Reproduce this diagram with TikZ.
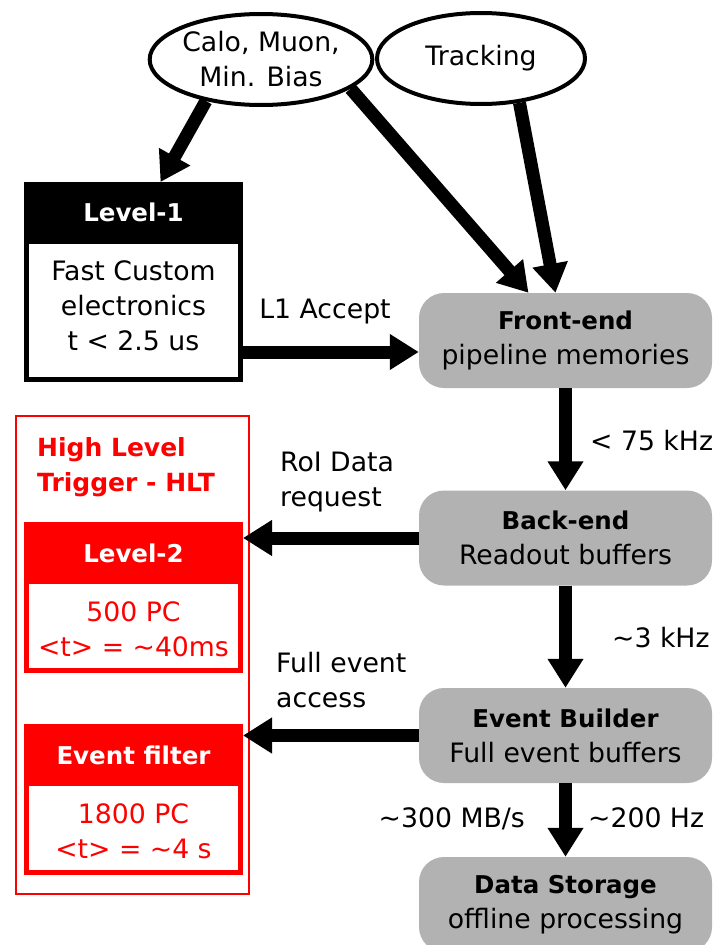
\documentclass[tikz,border=0pt]{standalone}
\usepackage{fontspec}
\setmainfont{DejaVu Sans}
\usetikzlibrary{arrows.meta}
\usetikzlibrary{shapes.geometric}
\usetikzlibrary{calc}
\newcommand{\hd}[1]{{\bfseries\fontsize{24.5}{35}\selectfont #1}}

\begin{document}
\begin{tikzpicture}[x=1pt,y=-1pt,
    every node/.style={font=\fontsize{26.7}{35}\selectfont, inner sep=0pt},
    src/.style={ellipse, draw, line width=4pt, minimum width=208pt, minimum height=91pt, align=center},
    stage/.style={fill=black!30, rounded corners=25pt, minimum width=293pt, minimum height=95pt, align=center},
    trigbox/.style={draw=#1, line width=5pt, minimum width=214pt, minimum height=146pt},
    trighead/.style={fill=#1, text=white, minimum width=219pt, minimum height=62pt, font=\bfseries\fontsize{24.5}{35}\selectfont},
    flow/.style={line width=13pt, -{Triangle[length=29pt,width=34pt]}}]
  \useasboundingbox (0,0) rectangle (717,945);

  % detectors
  \node[src] (calo) at (261,59.5) {Calo, Muon,\\Min. Bias};
  \node[src] (trk) at (481,58.5) {Tracking};

  % level-1
  \node[trigbox=black, minimum height=195pt] (l1) at (133.5,282) {};
  \node[trighead=black] (l1h) at (133.5,212.5) {Level-1};
  \node[align=center] (l1t) at (133.5,306) {Fast Custom\\electronics\\t < 2.5 us};

  % high level trigger
  \node[draw=red, line width=2pt, minimum width=233pt, minimum height=478pt] (hlt) at (132.5,655) {};
  \node[anchor=north west, align=left, text=red, font=\bfseries\fontsize{25}{35}\selectfont] (hltt) at (37,437) {High Level\\Trigger - HLT};
  \node[trigbox=red] (l2) at (133.5,597.5) {};
  \node[trighead=red] (l2h) at (133.5,553) {Level-2};
  \node[align=center, text=red] (l2t) at (133.5,629) {500 PC\\<t> = \textasciitilde40ms};
  \node[trigbox=red] (ef) at (133.5,799.5) {};
  \node[trighead=red] (efh) at (133.5,755) {Event filter};
  \node[align=center, text=red] (eft) at (133.5,831) {1800 PC\\<t> = \textasciitilde4 s};

  % data path
  \node[stage] (fe) at (565.5,340.5) {\hd{Front-end}\\pipeline memories};
  \node[stage] (be) at (565.5,538) {\hd{Back-end}\\Readout buffers};
  \node[stage] (eb) at (565.5,735.5) {\hd{Event Builder}\\Full event buffers};
  \node[stage] (ds) at (565.5,904.5) {\hd{Data Storage}\\offline processing};

  % labels
  \node[anchor=base] (acc) at (325,318) {L1 Accept};
  \node[anchor=base west] (rfe) at (590,450) {< 75 kHz};
  \node[anchor=north west, align=left] (roi) at (280,452) {RoI Data\\request};
  \node[anchor=base west] (rbe) at (612,647) {\textasciitilde3 kHz};
  \node[anchor=north west, align=left] (full) at (276,652) {Full event\\access};
  \node[anchor=base east] (bw) at (525,827) {\textasciitilde300 MB/s};
  \node[anchor=base west] (reb) at (588,827) {\textasciitilde200 Hz};

  % arrows
  \draw[flow] (calo.217) -- ($(l1.north)+(27,0)$);
  \draw[flow] (calo.342) -- ($(fe.north)+(-37,0)$);
  \draw[flow] (trk.311) -- ($(fe.north)+(-10,0)$);
  \draw[flow] (l1.east |- 0,352) -- (fe.west |- 0,352);
  \draw[flow] (fe) -- (be);
  \draw[flow] (be) -- (eb);
  \draw[flow] (eb) -- (ds);
  \draw[flow] (be.west) -- (be.west -| l2.east);
  \draw[flow] (eb.west) -- (eb.west -| ef.east);
\end{tikzpicture}
\end{document}
